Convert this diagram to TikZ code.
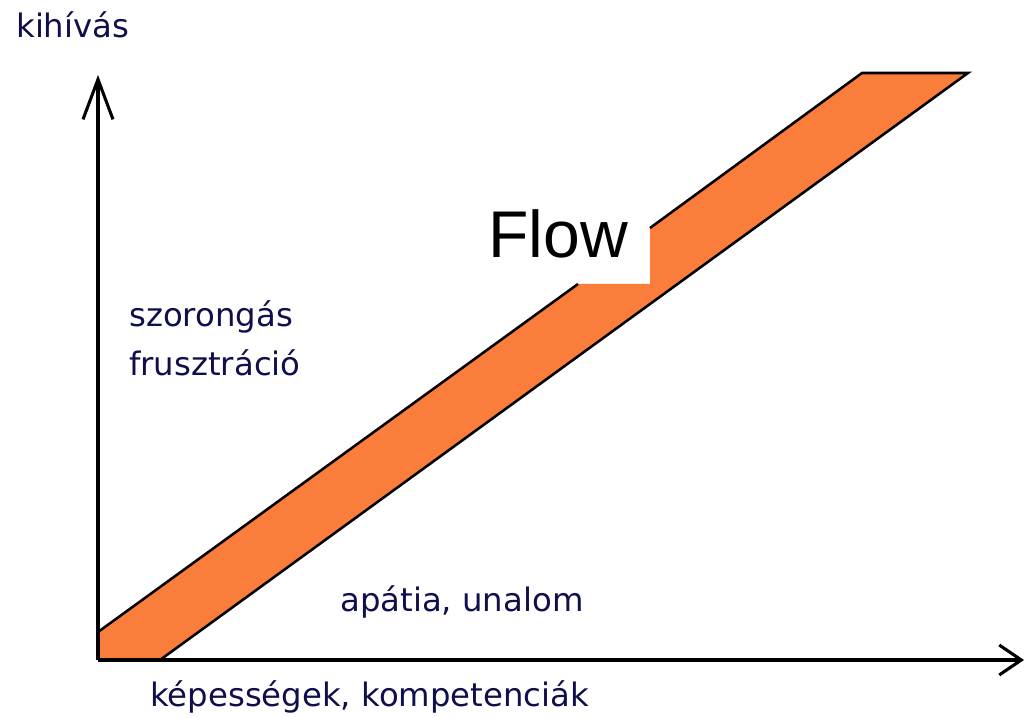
\documentclass[tikz,border=0pt]{standalone}
\usepackage{fontspec}
\setmainfont{DejaVu Sans}
\newfontfamily\flowfont{Liberation Sans}
\usetikzlibrary{arrows.meta}
\definecolor{flowfill}{RGB}{250,125,60}
\definecolor{labelcol}{RGB}{15,15,75}
\tikzstyle{axis}=[line width=2.2pt]
\tikzstyle{edge}=[line width=1.8pt]
\tikzstyle{labelsty}=[anchor=base west, inner sep=0pt, text=labelcol, font=\fontsize{23}{27}\selectfont]

\begin{document}
\begin{tikzpicture}[scale=1]
			\useasboundingbox (-2.45,-1.45) rectangle (23.175,16.5);
			
			\coordinate (o) at (0,0);
			\coordinate (ytip) at (0,14.625);
			\coordinate (xtip) at (23.15,0);
			
			% the flow channel
			\coordinate (a) at (0,0.7);
			\coordinate (b) at (12.0,9.4);
			\coordinate (c) at (13.8,9.4);
			\coordinate (d) at (13.8,10.8);
			\coordinate (e) at (19.1,14.675);
			\coordinate (f) at (21.75,14.675);
			\coordinate (g) at (1.55,0);
			
			\fill[flowfill] (o) -- (a) -- (b) -- (c) -- (d) -- (e) -- (f) -- (g) -- cycle;
			\draw[edge] (a) -- (b);
			\draw[edge] (d) -- (e) -- (f) -- (g);
			
			\draw[axis,-{Straight Barb[length=1cm,width=0.75cm]}] (o) -- (ytip);
			\draw[axis,-{Straight Barb[length=0.55cm,width=0.75cm]}] (o) -- (xtip);
			
			\node[labelsty] (kihivas) at (-2.05,15.55) {kihívás};
			\node[labelsty] (szorongas) at (0.775,8.325) {szorongás};
			\node[labelsty] (frusztracio) at (0.775,7.1) {frusztráció};
			\node[labelsty] (apatia) at (6.05,1.2) {apátia, unalom};
			\node[labelsty] (kepessegek) at (1.3,-1.175) {képességek, kompetenciák};
			\node[anchor=base west, inner sep=0pt, font=\flowfont\fontsize{47}{56}\selectfont] (flow) at (9.75,10.05) {Flow};
		\end{tikzpicture}
\end{document}
